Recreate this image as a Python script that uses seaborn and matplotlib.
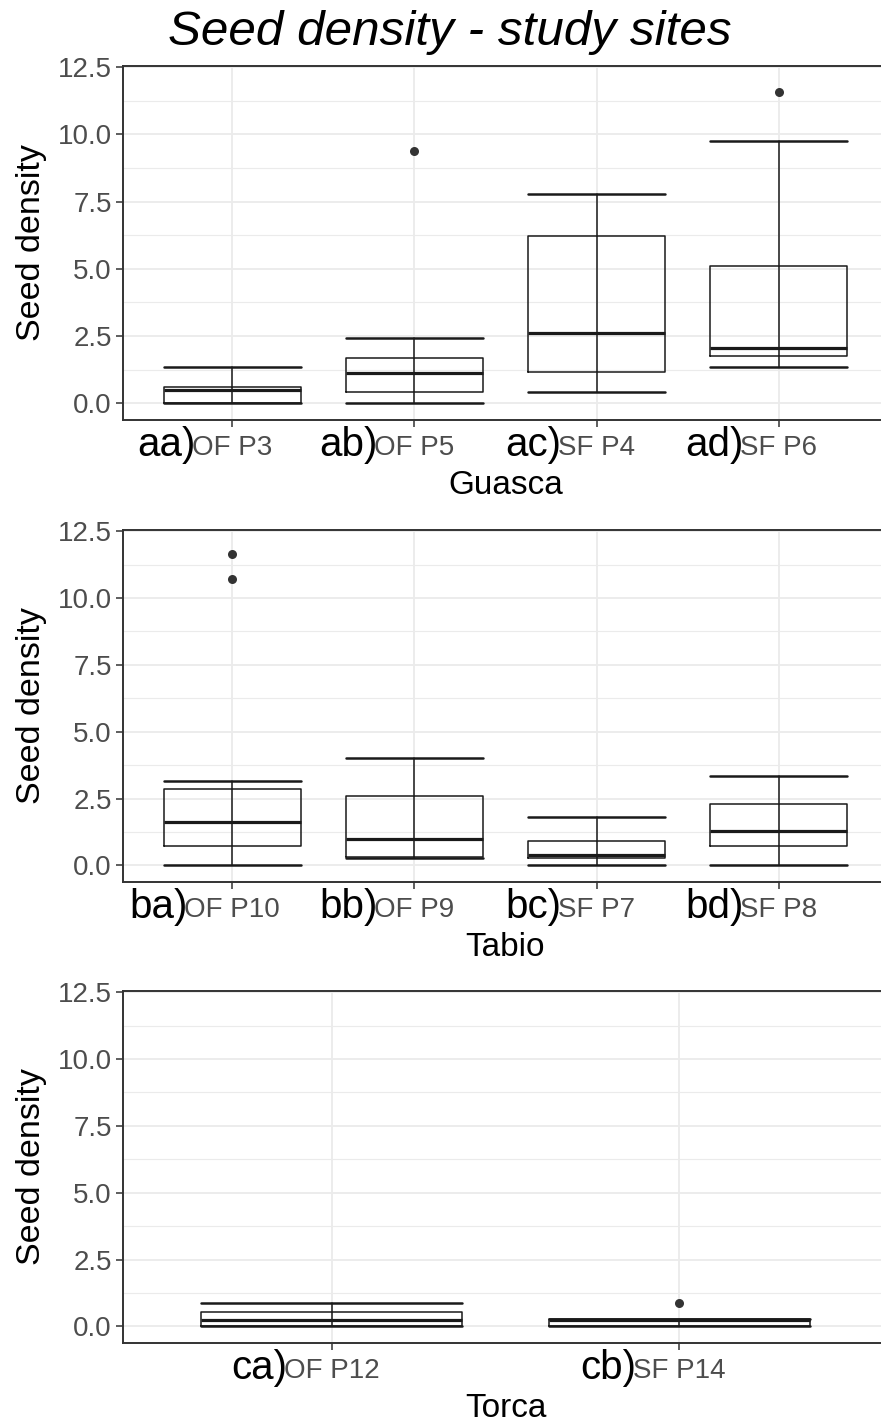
import matplotlib
matplotlib.use("Agg")
import matplotlib.pyplot as plt
from matplotlib.ticker import MultipleLocator
import seaborn as sns
import pandas as pd

# ---------------- data ----------------
guasca_sites = ["OF P3", "OF P5", "SF P4", "SF P6"]
guasca_letters = ["aa)", "ab)", "ac)", "ad)"]
guasca_whislo = [0.0, 0.0, 0.41, 1.35]
guasca_q1 = [0.03, 0.41, 1.15, 1.75]
guasca_med = [0.49, 1.11, 2.60, 2.04]
guasca_q3 = [0.62, 1.67, 6.23, 5.09]
guasca_whishi = [1.35, 2.42, 7.78, 9.77]
guasca_out_site = ["OF P5", "SF P6"]
guasca_out_val = [9.37, 11.58]

tabio_sites = ["OF P10", "OF P9", "SF P7", "SF P8"]
tabio_letters = ["ba)", "bb)", "bc)", "bd)"]
tabio_whislo = [0.0, 0.29, 0.0, 0.0]
tabio_q1 = [0.72, 0.30, 0.28, 0.72]
tabio_med = [1.64, 0.97, 0.38, 1.30]
tabio_q3 = [2.87, 2.61, 0.93, 2.29]
tabio_whishi = [3.15, 4.01, 1.81, 3.35]
tabio_out_site = ["OF P10", "OF P10"]
tabio_out_val = [11.65, 10.69]

torca_sites = ["OF P12", "SF P14"]
torca_letters = ["ca)", "cb)"]
torca_whislo = [0.0, 0.0]
torca_q1 = [0.0, 0.0]
torca_med = [0.25, 0.23]
torca_q3 = [0.55, 0.27]
torca_whishi = [0.89, 0.27]
torca_out_site = ["SF P14"]
torca_out_val = [0.89]

site_names = ["Guasca", "Tabio", "Torca"]
y_ticks = [0.0, 2.5, 5.0, 7.5, 10.0, 12.5]
y_tick_labels = ["0.0", "2.5", "5.0", "7.5", "10.0", "12.5"]
title = "Seed density - study sites"
y_label = "Seed density"

# ---------------- style ----------------
sns.set_theme(style="whitegrid")
plt.rcParams["font.family"] = ["Liberation Sans", "DejaVu Sans"]

W, H = 881, 1424
fig = plt.figure(figsize=(W / 100, H / 100), dpi=100)
fig.patch.set_facecolor("white")

panels = [
    (66, 420, guasca_sites, guasca_letters, guasca_whislo, guasca_q1, guasca_med,
     guasca_q3, guasca_whishi, guasca_out_site, guasca_out_val),
    (530, 882, tabio_sites, tabio_letters, tabio_whislo, tabio_q1, tabio_med,
     tabio_q3, tabio_whishi, tabio_out_site, tabio_out_val),
    (991, 1343, torca_sites, torca_letters, torca_whislo, torca_q1, torca_med,
     torca_q3, torca_whishi, torca_out_site, torca_out_val),
]

LINE = "#1a1a1a"
GRID = "#EBEBEB"

for (top, bottom, sites, letters, wlo, q1, med, q3, whi, osite, oval), name in zip(panels, site_names):
    ax = fig.add_axes([123 / W, 1 - bottom / H, (888 - 123) / W, (bottom - top) / H])
    ax.set_facecolor("white")
    n = len(sites)
    pos = list(range(n))

    # outliers through seaborn's categorical scale
    df_out = pd.DataFrame({"site": osite, "val": oval})
    sns.stripplot(data=df_out, x="site", y="val", order=sites, jitter=False,
                  color="#333333", size=6.5, ax=ax, zorder=4)

    stats = [dict(whislo=wlo[i], q1=q1[i], med=med[i], q3=q3[i], whishi=whi[i], fliers=[])
             for i in range(n)]
    ax.bxp(stats, positions=pos, widths=0.75, capwidths=0.75, showfliers=False,
           manage_ticks=False,
           boxprops=dict(color=LINE, lw=1.1),
           medianprops=dict(color=LINE, lw=2.3, solid_capstyle="butt"),
           whiskerprops=dict(color=LINE, lw=1.1),
           capprops=dict(color=LINE, lw=1.8))
    # errorbar-style whisker line running through the box
    ax.vlines(pos, q1, q3, color=LINE, lw=1.1, zorder=3)

    ax.set_xlim(-0.6, n - 1 + 0.6)
    ax.set_ylim(-0.62, 12.54)
    ax.set_yticks(y_ticks)
    ax.set_yticklabels(y_tick_labels)
    ax.yaxis.set_minor_locator(MultipleLocator(1.25))
    ax.set_xticks(pos)
    ax.set_xticklabels(sites)

    ax.set_axisbelow(True)
    ax.grid(False)
    ax.grid(True, which="major", axis="both", color=GRID, lw=1.3)
    ax.grid(True, which="minor", axis="y", color=GRID, lw=0.8)

    for s in ax.spines.values():
        s.set_visible(True)
        s.set_color("#333333")
        s.set_linewidth(1.4)
    ax.spines["right"].set_visible(False)

    ax.tick_params(axis="both", which="major", length=5, width=1.1, color="#333333",
                   labelcolor="#4D4D4D", labelsize=20, left=True, bottom=True)
    ax.tick_params(axis="x", pad=5.5)
    ax.tick_params(axis="y", pad=3)
    ax.tick_params(which="minor", length=0)

    ax.set_ylabel(y_label, fontsize=24.5, color="black", labelpad=8)
    ax.set_xlabel(name, fontsize=24, color="black", labelpad=6.5)

    for tl, lab in zip(ax.get_xticklabels(), letters):
        ax.annotate(lab, xy=(0, 0), xycoords=tl, xytext=(2.5, 3), textcoords="offset points",
                    ha="right", va="baseline", fontsize=29, color="black")

fig.text(450 / W, 1 - 45 / H, title, fontsize=35.6, style="italic",
         ha="center", va="baseline", color="black")

fig.savefig("out.png", dpi=100, facecolor="white")
